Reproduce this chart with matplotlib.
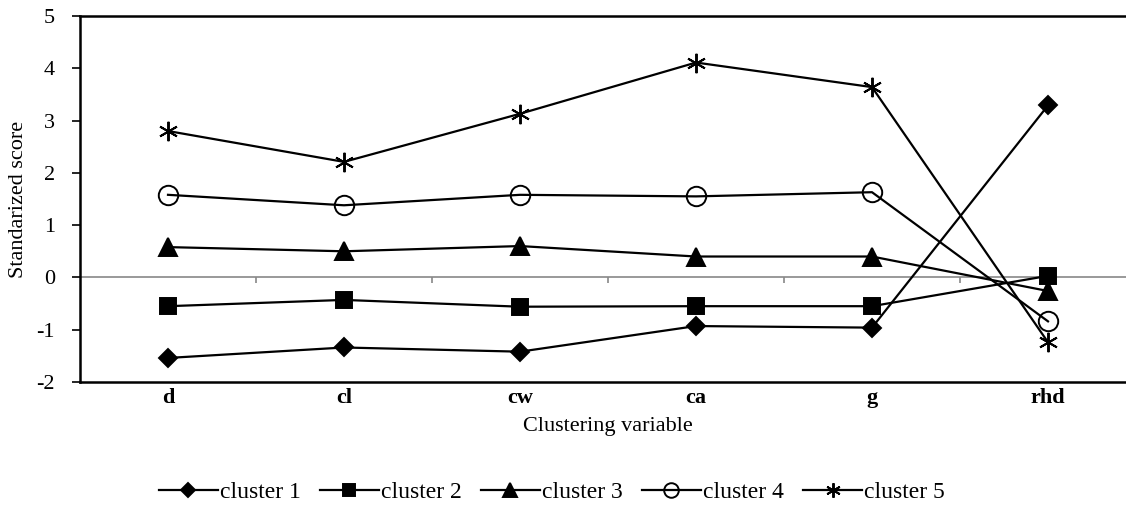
import numpy as np
import matplotlib.pyplot as plt

plt.rcParams["font.family"] = ["Liberation Serif", "DejaVu Serif"]
plt.rcParams["axes.unicode_minus"] = False

variables = ["d", "cl", "cw", "ca", "g", "rhd"]
cluster_1 = [-1.54, -1.34, -1.42, -0.93, -0.96, 3.29]
cluster_2 = [-0.55, -0.43, -0.56, -0.55, -0.55, 0.03]
cluster_3 = [0.58, 0.50, 0.60, 0.40, 0.40, -0.26]
cluster_4 = [1.58, 1.38, 1.58, 1.55, 1.63, -0.84]
cluster_5 = [2.80, 2.21, 3.13, 4.11, 3.64, -1.24]

series = [
    ("cluster 1", cluster_1, "D", 9, "k"),
    ("cluster 2", cluster_2, "s", 11, "k"),
    ("cluster 3", cluster_3, "^", 13, "k"),
    ("cluster 4", cluster_4, "o", 14, "none"),
    ("cluster 5", cluster_5, (6, 2, 0), 14, "k"),
]

fig = plt.figure(figsize=(11.26, 5.16), dpi=100)
ax = fig.add_axes([80 / 1126, 1 - 382 / 516, 1056 / 1126, 366 / 516])

x = np.arange(len(variables)) + 0.5
for label, vals, marker, ms, fc in series:
    ax.plot(x, vals, color="k", lw=1.6, marker=marker, markersize=ms,
            markerfacecolor=fc, markeredgecolor="k", markeredgewidth=1.4,
            label=label)

# zero line with category separators
ax.axhline(0, color="#888888", lw=1.2, zorder=0)
ax.vlines(np.arange(1, len(variables)), -0.1, 0, color="#888888", lw=1.2, zorder=0)

ax.set_xlim(0, len(variables))
ax.set_ylim(-2, 5)
ax.set_yticks(range(-2, 6))
ax.set_xticks(x)
ax.set_xticklabels(variables, fontweight="bold", fontsize=16)
ax.tick_params(axis="x", length=0, pad=4)
ax.tick_params(axis="y", labelsize=16, length=6, width=1.2, direction="out", pad=12)

for side in ["left", "bottom", "top"]:
    ax.spines[side].set_linewidth(1.8)
ax.spines["right"].set_visible(False)

ax.set_ylabel("Standarized score", fontsize=16)
ax.yaxis.set_label_coords(-52 / 1056, 0.5)
ax.set_xlabel("Clustering variable", fontsize=16, labelpad=7)

handles, labels = ax.get_legend_handles_labels()
fig.legend(handles, labels, loc="center", bbox_to_anchor=(552 / 1126, 1 - 492 / 516),
           ncol=5, frameon=False, fontsize=17, handlelength=2.5,
           handletextpad=0.1, columnspacing=0.8, markerscale=0.75)

fig.savefig("out.png", dpi=100)
